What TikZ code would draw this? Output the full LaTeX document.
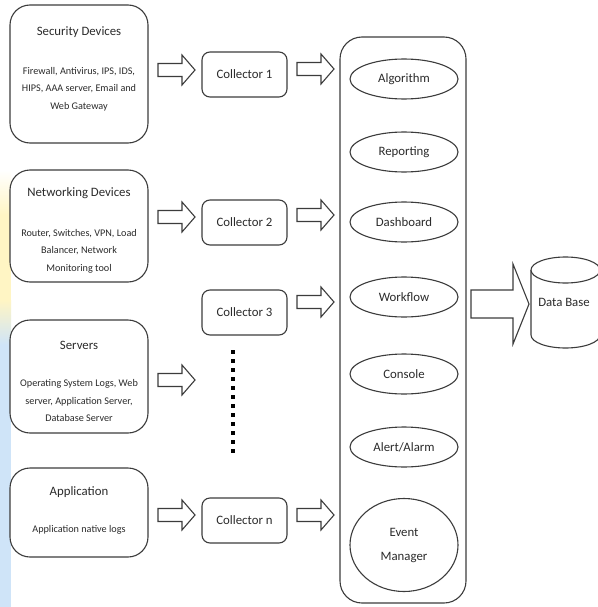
\documentclass[tikz,border=0pt]{standalone}
\usepackage{fontspec}
\setmainfont{Carlito}
\definecolor{ln}{HTML}{3C3C3C}
\definecolor{tx}{HTML}{2B2B2B}
\definecolor{stripy}{HTML}{FFF5C4}
\definecolor{stripb}{HTML}{CFE4F8}
\tikzset{
  line/.style={draw=ln, line width=1.1pt},
  srcbox/.style={line, fill=white, rounded corners=20pt, minimum width=138pt, inner sep=0pt},
  collbox/.style={line, fill=white, rounded corners=8pt, minimum width=85pt, minimum height=45pt, inner sep=0pt, font=\fontsize{12.8}{15}\selectfont, text=tx},
  bigbox/.style={line, rounded corners=22pt, minimum width=126pt, minimum height=566pt, inner sep=0pt},
  oval/.style={line, ellipse, minimum width=108pt, minimum height=40pt, inner sep=0pt, align=center, font=\fontsize{12.8}{24}\selectfont, text=tx},
  ttl/.style={font=\fontsize{12.8}{15}\selectfont, text=tx, inner sep=0pt},
  bdy/.style={font=\fontsize{10.2}{17.5}\selectfont, text=tx, align=center, inner sep=0pt},
  blk/.style={line, fill=white, line join=miter},
  pics/barrow/.style={code={\draw[blk] (0,-6.5) -- (24,-6.5) -- (24,-15) -- (37,0) -- (24,15) -- (24,6.5) -- (0,6.5) -- cycle;}}
}
\usetikzlibrary{shapes.geometric}
\begin{document}
\begin{tikzpicture}[x=1pt,y=-1pt]
\useasboundingbox (0,0) rectangle (597,607);
\fill[white] (0,0) rectangle (597,607);
% background strips at left edge
\shade[top color=white, bottom color=stripy] (0,170) rectangle (11,215);
\fill[stripy] (0,215) rectangle (11,300);
\shade[top color=stripy, bottom color=stripb] (0,300) rectangle (11,345);
\fill[stripb] (0,345) rectangle (11,607);

% source boxes
\node[srcbox, minimum height=138pt] (s1) at (79,74) {};
\node[ttl] (s1t) at (79,32) {Security Devices};
\node[bdy] (s1b) at (79,89) {Firewall, Antivirus, IPS, IDS,\\HIPS, AAA server, Email and\\Web Gateway};

\node[srcbox, minimum height=112pt] (s2) at (79,226) {};
\node[ttl] (s2t) at (79,193) {Networking Devices};
\node[bdy] (s2b) at (79,251) {Router, Switches, VPN, Load\\Balancer, Network\\Monitoring tool};

\node[srcbox, minimum height=113pt] (s3) at (79,376.5) {};
\node[ttl] (s3t) at (79,345) {Servers};
\node[bdy] (s3b) at (79,400.5) {Operating System Logs, Web\\server, Application Server,\\Database Server};

\node[srcbox, minimum height=89pt] (s4) at (79,512.5) {};
\node[ttl] (s4t) at (79,492) {Application};
\node[bdy] (s4b) at (79,530) {Application native logs};

% collectors
\node[collbox] (c1) at (244.5,74.5) {Collector 1};
\node[collbox] (c2) at (244.5,222.5) {Collector 2};
\node[collbox] (c3) at (244.5,312.5) {Collector 3};
\node[collbox] (cn) at (244.5,520.5) {Collector n};

% dotted continuation
\coordinate (dA) at (233,350);
\coordinate (dB) at (233,456);
\draw[line width=4pt, draw=black, dash pattern=on 4pt off 5pt] (dA) -- (dB);

% big container
\node[bigbox] (big) at (403,320) {};
\node[oval] (e1) at (404,79) {Algorithm};
\node[oval] (e2) at (404,152) {Reporting};
\node[oval] (e3) at (404,222) {Dashboard};
\node[oval] (e4) at (404,297) {Workflow};
\node[oval] (e5) at (404,374) {Console};
\node[oval] (e6) at (404,447) {Alert/Alarm};
\node[oval, minimum height=93pt] (e7) at (404,545) {Event\\Manager};

% block arrows: sources -> collectors
\pic (a1) at (158,70) {barrow};
\pic (a2) at (158,217) {barrow};
\pic (a3) at (158,380) {barrow};
\pic (a4) at (158,515) {barrow};
% collectors -> container
\pic (b1) at (297,69) {barrow};
\pic (b2) at (297,215) {barrow};
\pic (b3) at (297,302) {barrow};
\pic (b4) at (297,515) {barrow};

% big arrow to database
\draw[blk] (471,290) -- (513,290) -- (513,264) -- (529,304) -- (513,344) -- (513,318) -- (471,318) -- cycle;

% database cylinder
\draw[line, fill=white] (531,270) -- (531,335) arc[start angle=180, end angle=0, x radius=34.5, y radius=13] -- (600,270);
\draw[line, fill=white] (565.5,270) ellipse [x radius=34.5, y radius=13];
\node[ttl] (db) at (564,302) {Data Base};
\end{tikzpicture}
\end{document}
